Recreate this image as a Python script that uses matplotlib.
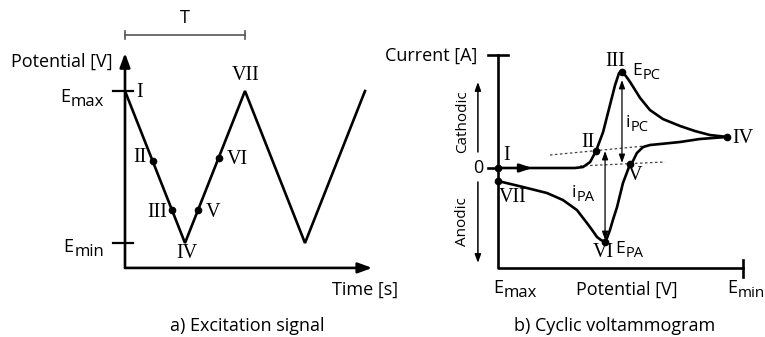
import numpy as np
import matplotlib
matplotlib.use("Agg")
import matplotlib.pyplot as plt
from matplotlib.transforms import offset_copy

plt.rcParams['font.family'] = ['Open Sans', 'DejaVu Sans']

# a) excitation signal: time in periods T, potential normalised (Emin=0, Emax=1)
t_wave = [0, 0.5, 1.0, 1.5, 2.0]
e_wave = [1, 0, 1, 0, 1]
t_pts = [0.23, 0.39, 0.61, 0.78]
e_pts = [0.54, 0.22, 0.22, 0.56]
roman_a = ['I', 'II', 'III', 'IV', 'V', 'VI', 'VII']
roman_a_x = [0.125, 0.125, 0.267, 0.517, 0.733, 0.933, 1.008]
roman_a_y = [0.99, 0.56, 0.20, -0.066, 0.20, 0.55, 1.105]

# b) cyclic voltammogram: potential 0=Emax .. 1=Emin, current normalised to peak
fwd_x = [0, 0.171, 0.314, 0.347, 0.376, 0.400, 0.429, 0.457, 0.478, 0.494, 0.506,
         0.522, 0.539, 0.580, 0.620, 0.673, 0.743, 0.804, 0.865, 0.935]
fwd_y = [0, 0, 0, 0.010, 0.062, 0.175, 0.371, 0.649, 0.856, 0.979, 0.99,
         0.948, 0.887, 0.722, 0.598, 0.505, 0.433, 0.381, 0.340, 0.320]
rev_x = [0.935, 0.824, 0.743, 0.661, 0.620, 0.592, 0.567, 0.547, 0.539, 0.527, 0.510,
         0.498, 0.486, 0.469, 0.457, 0.445, 0.437, 0.420, 0.404, 0.384, 0.363, 0.322,
         0.265, 0.200, 0.102, 0]
rev_y = [0.320, 0.299, 0.268, 0.247, 0.237, 0.216, 0.155, 0.052, 0.041, -0.041, -0.155,
         -0.278, -0.402, -0.536, -0.639, -0.722, -0.763, -0.742, -0.711, -0.639, -0.567, -0.433,
         -0.330, -0.258, -0.196, -0.134]
pts_x = [0, 0.400, 0.506, 0.935, 0.539, 0.437, 0]
pts_y = [0, 0.175, 0.99, 0.320, 0.041, -0.763, -0.134]
base_up_x = [0.212, 0.600]
base_up_y = [0.134, 0.227]
base_lo_x = [0.335, 0.682]
base_lo_y = [0.021, 0.062]
roman_b = ['I', 'II', 'III', 'IV', 'V', 'VI', 'VII']
roman_b_x = [0.037, 0.367, 0.478, 0.955, 0.559, 0.429, 0.061]
roman_b_y = [0.134, 0.268, 1.093, 0.309, -0.082, -0.876, -0.299]

W, H = 765, 337
FS = 13
fig = plt.figure(figsize=(7.65, 3.37), dpi=100)
renderer = fig.canvas.get_renderer()

serif = dict(family='Liberation Serif', fontsize=14.5)
lw = 1.9


def arrow(ax, start, end, style='-|>', lw=1.9, ms=14, color='k'):
    ax.annotate('', xy=end, xytext=start, annotation_clip=False,
                arrowprops=dict(arrowstyle=style, lw=lw, color=color,
                                mutation_scale=ms, shrinkA=0, shrinkB=0))


def sub_label(ax, x, y, main, sub, align='left', size=FS, sub_size=11, drop=4):
    # main letter plus a lowered subscript, placed on the baseline y
    t1 = ax.text(x, y, main, ha='left', va='baseline', fontsize=size)
    w1 = t1.get_window_extent(renderer).width
    t2 = ax.text(x, y, sub, ha='left', va='baseline', fontsize=sub_size)
    w2 = t2.get_window_extent(renderer).width
    shift = -(w1 + w2) if align == 'right' else 0
    t1.set_transform(offset_copy(ax.transData, fig=fig, x=shift, y=0, units='dots'))
    t2.set_transform(offset_copy(ax.transData, fig=fig, x=shift + w1 + 0.5, y=-drop,
                                 units='dots'))


# ---------- panel a ----------
ax1 = fig.add_axes([125 / W, (H - 243) / H, 240 / W, 152 / H])
ax1.set_xlim(0, 2)
ax1.set_ylim(0, 1)
ax1.axis('off')

arrow(ax1, (0, -0.164), (0, 1.25), style='-|>,head_length=0.6,head_width=0.22')
arrow(ax1, (0, -0.164), (2.06, -0.164), style='-|>,head_length=0.6,head_width=0.22')
ax1.plot(t_wave, e_wave, color='k', lw=lw, clip_on=False, solid_joinstyle='miter')
ax1.plot(t_pts, e_pts, 'o', color='k', ms=4.5, clip_on=False)
for yv in (0, 1):
    ax1.plot([-0.1, 0.067], [yv, yv], color='k', lw=1.6, clip_on=False)
for s, x, y in zip(roman_a, roman_a_x, roman_a_y):
    ax1.text(x, y, s, ha='center', va='center', **serif)

# period bracket
ax1.plot([0, 1], [1.368, 1.368], color='#555555', lw=1.2, clip_on=False)
for xv in (0, 1):
    ax1.plot([xv, xv], [1.342, 1.395], color='#555555', lw=1.2, clip_on=False)
ax1.text(0.5, 1.48, 'T', ha='center', va='center', fontsize=FS)

ax1.text(-0.1, 1.19, 'Potential [V]', ha='right', va='center', fontsize=FS)
sub_label(ax1, -0.18, 0.93, 'E', 'max', align='right', sub_size=12)
sub_label(ax1, -0.18, -0.06, 'E', 'min', align='right', sub_size=12)
ax1.text(2.0, -0.31, 'Time [s]', ha='center', va='center', fontsize=FS)
ax1.text(1.017, -0.546, 'a) Excitation signal', ha='center', va='center', fontsize=FS)

# ---------- panel b ----------
ax2 = fig.add_axes([498 / W, (H - 168) / H, 245 / W, 97 / H])
ax2.set_xlim(0, 1)
ax2.set_ylim(0, 1)
ax2.axis('off')

ax2.plot([0, 0, 1], [1.165, -1.031, -1.031], color='k', lw=lw, clip_on=False)
ax2.plot([-0.041, 0.041], [1.165, 1.165], color='k', lw=lw, clip_on=False)
ax2.plot([1, 1], [-0.948, -1.124], color='k', lw=lw, clip_on=False)
ax2.plot([-0.041, 0], [0, 0], color='k', lw=lw, clip_on=False)

ax2.plot(base_up_x, base_up_y, color='#444444', lw=0.9, ls=(0, (2, 2)), clip_on=False)
ax2.plot(base_lo_x, base_lo_y, color='#444444', lw=0.9, ls=(0, (2, 2)), clip_on=False)

ax2.plot(fwd_x, fwd_y, color='k', lw=lw, clip_on=False, solid_joinstyle='round')
ax2.plot(rev_x, rev_y, color='k', lw=lw, clip_on=False, solid_joinstyle='round')
ax2.plot(pts_x, pts_y, 'o', color='k', ms=4.5, clip_on=False)
arrow(ax2, (0.08, 0), (0.14, 0), style='-|>,head_length=0.6,head_width=0.2', ms=12)

# peak current arrows
arrow(ax2, (0.506, 0.052), (0.506, 0.907), style='<|-|>,head_length=0.5,head_width=0.18',
      lw=0.9, ms=10)
arrow(ax2, (0.437, -0.742), (0.437, 0.175), style='<|-|>,head_length=0.5,head_width=0.18',
      lw=0.9, ms=10)

# cathodic / anodic direction arrows
arrow(ax2, (-0.082, 0.165), (-0.082, 0.887), style='-|>,head_length=0.5,head_width=0.18',
      lw=1.1, ms=10)
arrow(ax2, (-0.082, -0.144), (-0.082, -0.979), style='-|>,head_length=0.5,head_width=0.18',
      lw=1.1, ms=10)
ax2.text(-0.143, 0.474, 'Cathodic', rotation=90, ha='center', va='center', fontsize=11)
ax2.text(-0.143, -0.557, 'Anodic', rotation=90, ha='center', va='center', fontsize=11)

for s, x, y in zip(roman_b, roman_b_x, roman_b_y):
    ax2.text(x, y, s, ha='left' if s == 'IV' else 'center', va='center', **serif)

sub_label(ax2, 0.547, 0.959, 'E', 'PC', size=12.5, sub_size=10.5)
sub_label(ax2, 0.478, -0.876, 'E', 'PA', size=12.5, sub_size=10.5)
sub_label(ax2, 0.522, 0.423, 'i', 'PC', size=12.5, sub_size=10.5)
sub_label(ax2, 0.302, -0.299, 'i', 'PA', size=12.5, sub_size=10.5)

ax2.text(-0.086, 1.155, 'Current [A]', ha='right', va='center', fontsize=FS)
ax2.text(-0.082, 0, '0', ha='center', va='center', fontsize=FS)
sub_label(ax2, -0.02, -1.289, 'E', 'max', sub_size=12)
sub_label(ax2, 0.936, -1.289, 'E', 'min', sub_size=11)
ax2.text(0.527, -1.258, 'Potential [V]', ha='center', va='center', fontsize=FS)
ax2.text(0.478, -1.629, 'b) Cyclic voltammogram', ha='center', va='center', fontsize=FS)

fig.savefig('out.png', dpi=100)
